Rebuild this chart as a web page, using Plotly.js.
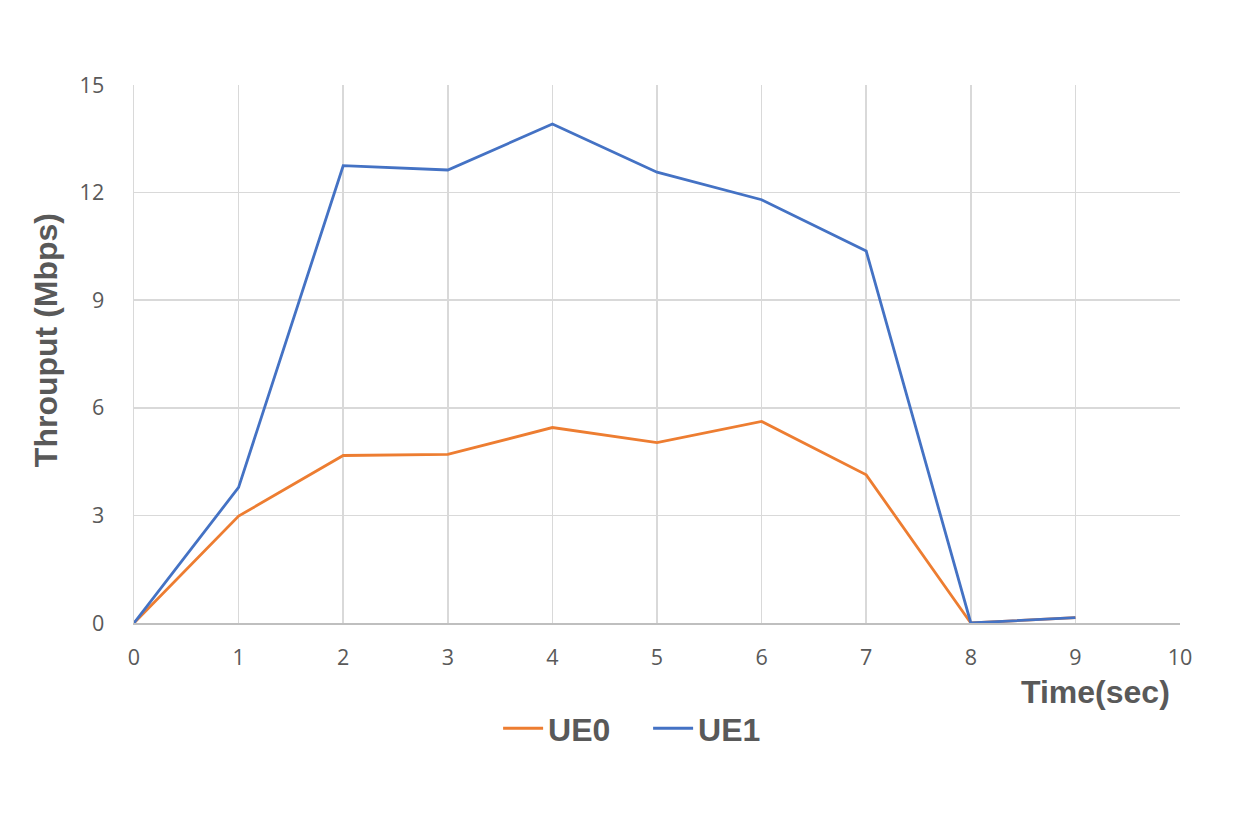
<!DOCTYPE html>
<html>
<head>
<meta charset="utf-8">
<script src="https://cdn.plot.ly/plotly-3.0.1.min.js"></script>
<style>html,body{margin:0;padding:0;background:#fff;}#chart{width:1233px;height:815px;}</style>
</head>
<body>
<div id="chart"></div>
<script>
const time = [0, 1, 2, 3, 4, 5, 6, 7, 8, 9];
const ue0 = [0, 2.98, 4.67, 4.70, 5.45, 5.03, 5.62, 4.13, 0, 0.15];
const ue1 = [0, 3.78, 12.75, 12.63, 13.91, 12.57, 11.80, 10.37, 0, 0.15];
const seriesNames = ["UE0", "UE1"];
const xTicks = [0, 1, 2, 3, 4, 5, 6, 7, 8, 9, 10];
const yTicks = [0, 3, 6, 9, 12, 15];

const traces = [
  {x: time, y: ue0, name: seriesNames[0], mode: "lines", line: {color: "#ED7D31", width: 2.8}},
  {x: time, y: ue1, name: seriesNames[1], mode: "lines", line: {color: "#4472C4", width: 2.8}}
];

const titleFont = {family: "Liberation Sans, Arial, sans-serif", size: 32, color: "#595959"};

const layout = {
  width: 1233, height: 815,
  paper_bgcolor: "#fff", plot_bgcolor: "#fff",
  margin: {l: 134, r: 53, t: 85, b: 192},
  font: {family: "Open Sans, sans-serif", color: "#595959"},
  xaxis: {
    range: [0, 10], tickvals: xTicks, ticktext: xTicks.map(String),
    showgrid: true, gridcolor: "#d9d9d9", gridwidth: 1.5,
    zeroline: false, showline: true, linecolor: "#bfbfbf", linewidth: 1.5, mirror: false,
    ticks: "", tickfont: {size: 21.5, color: "#595959"}, ticklabelstandoff: 15
  },
  yaxis: {
    range: [0, 15], tickvals: yTicks, ticktext: yTicks.map(String),
    showgrid: true, gridcolor: "#d9d9d9", gridwidth: 1.5,
    zeroline: false, showline: true, linecolor: "#d9d9d9", linewidth: 1.5,
    ticks: "", tickfont: {size: 21.5, color: "#595959"}, ticklabelstandoff: 24
  },
  showlegend: true,
  legend: {
    orientation: "h", x: 0.4915, xanchor: "center", y: -0.196, yanchor: "middle",
    font: {family: "Liberation Sans, Arial, sans-serif", size: 32, color: "#595959", weight: "bold"},
    itemwidth: 40, entrywidth: 95, traceorder: "normal"
  },
  annotations: [
    {text: "<b>Time(sec)</b>", xref: "paper", yref: "paper", x: 0.992, y: -0.128, xanchor: "right", yanchor: "middle",
     showarrow: false, font: titleFont},
    {text: "<b>Throuput (Mbps)</b>", xref: "paper", yref: "paper", x: -0.084, y: 0.526, xanchor: "center", yanchor: "middle",
     textangle: -90, showarrow: false, font: titleFont}
  ]
};

Plotly.newPlot("chart", traces, layout, {displayModeBar: false, staticPlot: true});
</script>
</body>
</html>
